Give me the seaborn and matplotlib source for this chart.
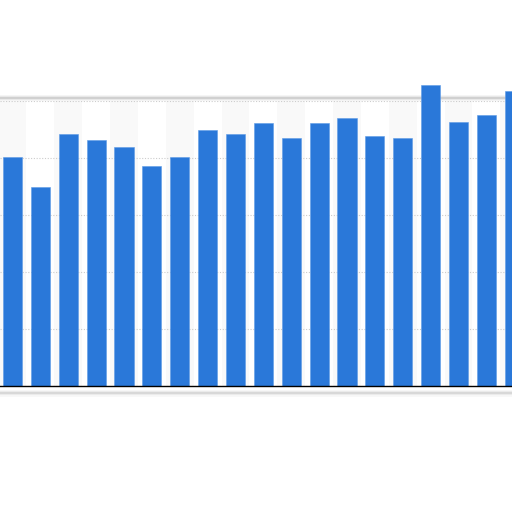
import matplotlib
matplotlib.use("Agg")
import matplotlib.pyplot as plt
import seaborn as sns
import pandas as pd
from matplotlib.lines import Line2D

categories = [f"C{i+1}" for i in range(19)]
values = [80.1, 69.8, 88.3, 86.3, 83.7, 77.0, 80.2, 89.6, 88.3, 92.1,
          87.0, 92.1, 94.0, 87.4, 86.9, 105.4, 92.4, 95.0, 103.2]
y_ticks = [0, 20, 40, 60, 80, 100]

df = pd.DataFrame({"cat": categories, "val": values})

sns.set_theme(style="white")
fig = plt.figure(figsize=(5.12, 5.12), dpi=100)
fig.patch.set_facecolor("white")

ax_bottom = 1 - 386 / 512
ax_top = 1 - 100.5 / 512
ax = fig.add_axes([0, ax_bottom, 1, ax_top - ax_bottom])
ax.set_facecolor("white")

# shadow lines around panel
for lw, a in [(5, 0.08), (3, 0.15), (1.5, 0.3)]:
    fig.add_artist(Line2D([0, 1], [1 - 98 / 512] * 2, color="#999999",
                          lw=lw, alpha=a, transform=fig.transFigure, zorder=0))
    fig.add_artist(Line2D([0, 1], [1 - 392.5 / 512] * 2, color="#aaaaaa",
                          lw=lw, alpha=a, transform=fig.transFigure, zorder=0))

sns.barplot(data=df, x="cat", y="val", color="#2a78d9", width=0.69,
            saturation=1, ax=ax, zorder=3)
for p in ax.patches:
    p.set_clip_on(False)
    p.set_edgecolor("#5e9be6")
    p.set_linewidth(0.4)

# alternating bands
for i in range(0, len(categories), 2):
    ax.axvspan(i - 0.5, i + 0.5, color="#f9f9f9", zorder=0, lw=0)

ax.set_xlim(-0.449, 17.92)
ax.set_ylim(0, 100)
ax.set_yticks(y_ticks)
ax.yaxis.grid(True, linestyle=(0, (1, 1.5)), color="#cccccc", lw=0.8, zorder=1)
ax.set_axisbelow(True)
ax.set_xticks([])
ax.set_yticklabels([])
ax.set_xlabel("")
ax.set_ylabel("")
for s in ["left", "right", "top"]:
    ax.spines[s].set_visible(False)
ax.spines["bottom"].set_color("black")
ax.spines["bottom"].set_linewidth(1.0)
ax.spines["bottom"].set_zorder(5)

fig.savefig("out.png", dpi=100)
